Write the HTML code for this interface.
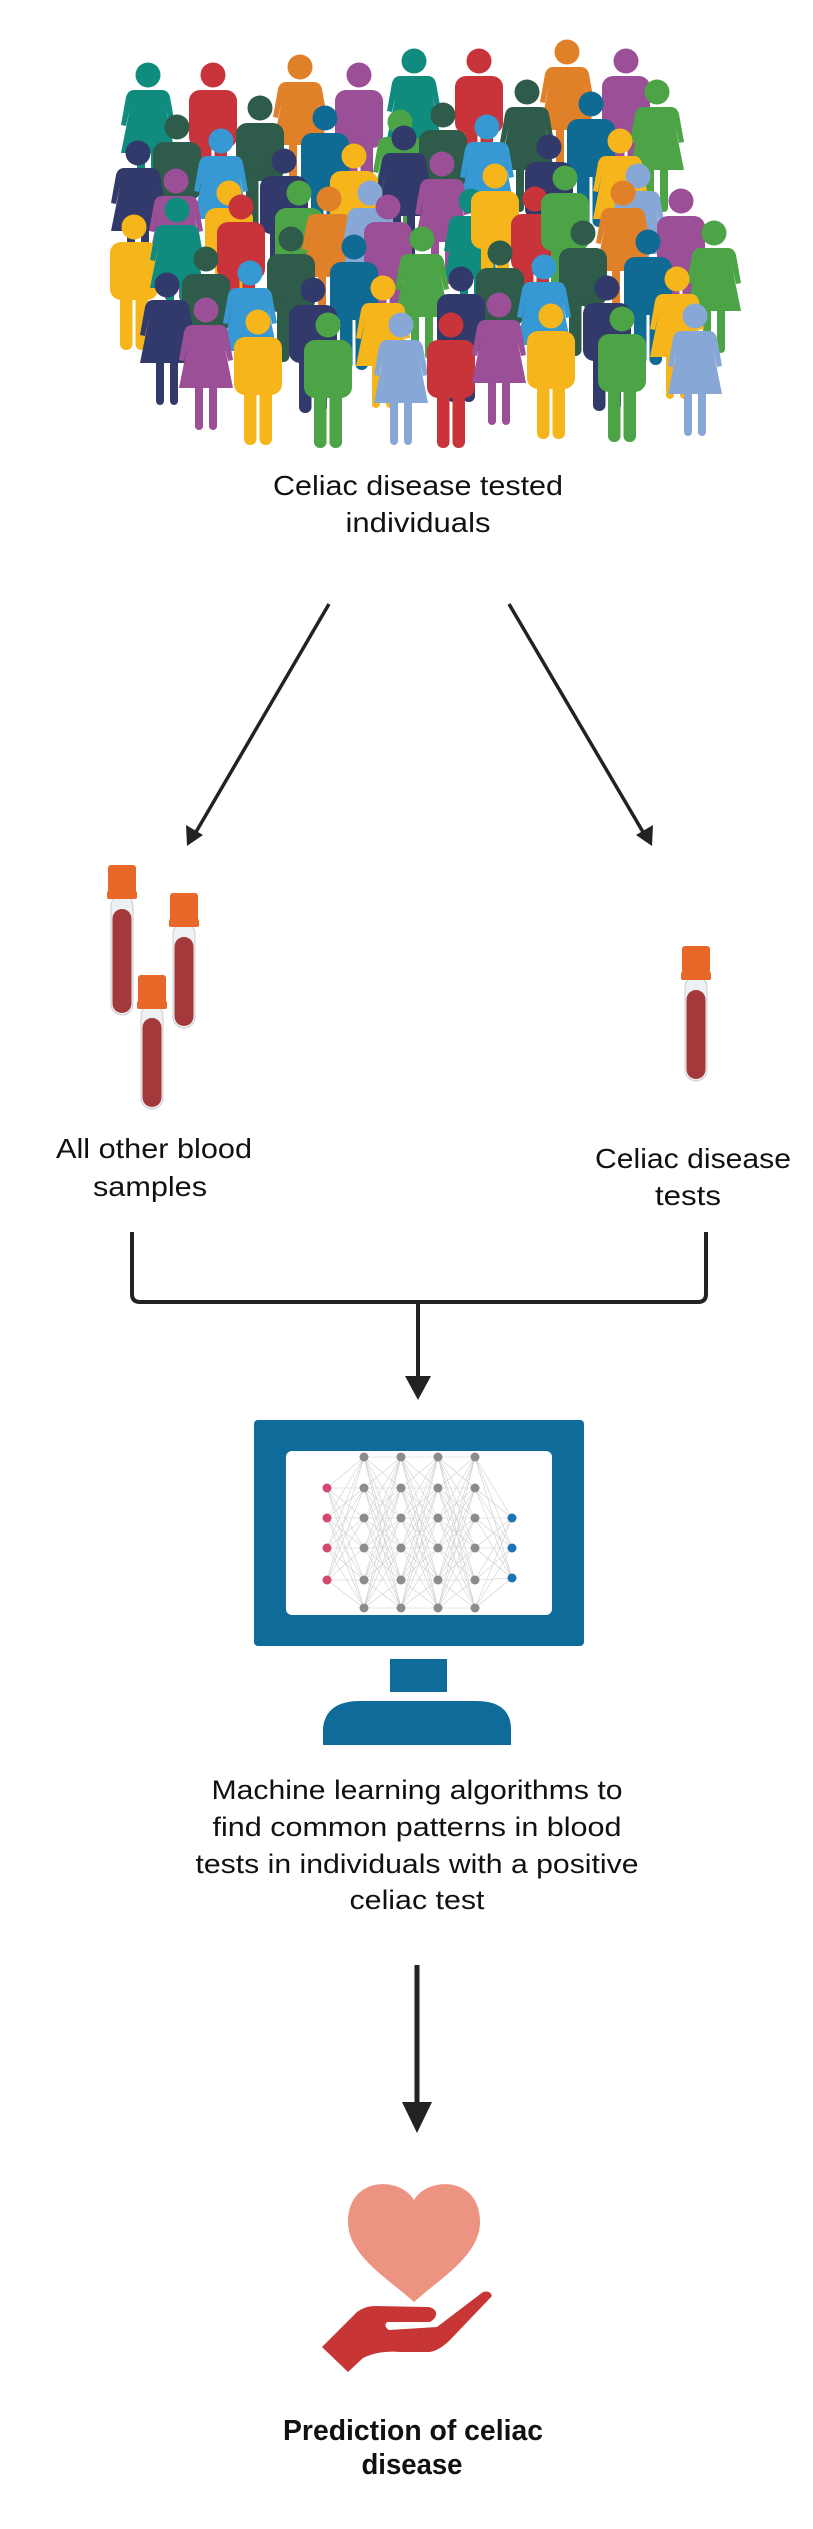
<!DOCTYPE html>
<html><head><meta charset="utf-8"><style>html,body{margin:0;padding:0;background:#fff}svg{display:block}</style></head>
<body>
<svg width="813" height="2529" viewBox="0 0 813 2529" xmlns="http://www.w3.org/2000/svg" font-family="Liberation Sans, sans-serif">
<defs>
<g id="m">
<circle cx="0" cy="12" r="12.5"/>
<rect x="-24" y="27" width="48" height="58" rx="11"/>
<rect x="-14" y="76" width="12.5" height="59" rx="6"/>
<rect x="1.5" y="76" width="12.5" height="59" rx="6"/>
</g>
<g id="w">
<circle cx="0" cy="12" r="12.5"/>
<path d="M-14 27 L14 27 Q20 27 22 34 L27 62 L22 63 L18 45 L27 90 L-27 90 L-18 45 L-22 63 L-27 62 L-22 34 Q-20 27 -14 27 Z"/>
<rect x="-11" y="86" width="8" height="46" rx="4"/>
<rect x="3" y="86" width="8" height="46" rx="4"/>
</g>
</defs>

<g>
<use href="#w" x="148" y="63" fill="#108c7f"/>
<use href="#m" x="213" y="63" fill="#c8343a"/>
<use href="#w" x="300" y="55" fill="#e0812a"/>
<use href="#m" x="359" y="63" fill="#9a4f96"/>
<use href="#w" x="414" y="49" fill="#108c7f"/>
<use href="#m" x="479" y="49" fill="#c8343a"/>
<use href="#w" x="567" y="40" fill="#e0812a"/>
<use href="#m" x="626" y="49" fill="#9a4f96"/>
<use href="#w" x="657" y="80" fill="#4ca446"/>
<use href="#w" x="527" y="80" fill="#2e5b4a"/>
<use href="#m" x="177" y="115" fill="#2e5b4a"/>
<use href="#m" x="260" y="96" fill="#2e5b4a"/>
<use href="#m" x="325" y="106" fill="#0f6b94"/>
<use href="#w" x="400" y="110" fill="#4ca446"/>
<use href="#m" x="443" y="103" fill="#2e5b4a"/>
<use href="#w" x="487" y="115" fill="#3799d3"/>
<use href="#m" x="591" y="92" fill="#0f6b94"/>
<use href="#w" x="138" y="141" fill="#323a6c"/>
<use href="#w" x="221" y="129" fill="#3799d3"/>
<use href="#m" x="284" y="149" fill="#323a6c"/>
<use href="#m" x="354" y="144" fill="#f5b51b"/>
<use href="#w" x="404" y="126" fill="#323a6c"/>
<use href="#w" x="442" y="152" fill="#9a4f96"/>
<use href="#m" x="549" y="135" fill="#323a6c"/>
<use href="#w" x="620" y="129" fill="#f5b51b"/>
<use href="#w" x="638" y="164" fill="#87a7d7"/>
<use href="#w" x="176" y="169" fill="#9a4f96"/>
<use href="#m" x="229" y="181" fill="#f5b51b"/>
<use href="#m" x="241" y="195" fill="#c8343a"/>
<use href="#m" x="299" y="181" fill="#4ca446"/>
<use href="#w" x="329" y="187" fill="#e0812a"/>
<use href="#w" x="370" y="181" fill="#87a7d7"/>
<use href="#m" x="388" y="195" fill="#9a4f96"/>
<use href="#w" x="471" y="189" fill="#108c7f"/>
<use href="#m" x="495" y="164" fill="#f5b51b"/>
<use href="#m" x="535" y="187" fill="#c8343a"/>
<use href="#m" x="565" y="166" fill="#4ca446"/>
<use href="#w" x="623" y="181" fill="#e0812a"/>
<use href="#m" x="681" y="189" fill="#9a4f96"/>
<use href="#m" x="134" y="215" fill="#f5b51b"/>
<use href="#w" x="177" y="198" fill="#108c7f"/>
<use href="#m" x="206" y="247" fill="#2e5b4a"/>
<use href="#m" x="291" y="227" fill="#2e5b4a"/>
<use href="#m" x="354" y="235" fill="#0f6b94"/>
<use href="#w" x="422" y="227" fill="#4ca446"/>
<use href="#m" x="500" y="241" fill="#2e5b4a"/>
<use href="#m" x="583" y="221" fill="#2e5b4a"/>
<use href="#m" x="648" y="230" fill="#0f6b94"/>
<use href="#w" x="714" y="221" fill="#4ca446"/>
<use href="#w" x="167" y="273" fill="#323a6c"/>
<use href="#w" x="250" y="261" fill="#3799d3"/>
<use href="#m" x="313" y="278" fill="#323a6c"/>
<use href="#w" x="383" y="276" fill="#f5b51b"/>
<use href="#m" x="461" y="267" fill="#323a6c"/>
<use href="#w" x="544" y="255" fill="#3799d3"/>
<use href="#m" x="607" y="276" fill="#323a6c"/>
<use href="#w" x="677" y="267" fill="#f5b51b"/>
<use href="#w" x="206" y="298" fill="#9a4f96"/>
<use href="#m" x="258" y="310" fill="#f5b51b"/>
<use href="#m" x="328" y="313" fill="#4ca446"/>
<use href="#w" x="401" y="313" fill="#87a7d7"/>
<use href="#m" x="451" y="313" fill="#c8343a"/>
<use href="#w" x="499" y="293" fill="#9a4f96"/>
<use href="#m" x="551" y="304" fill="#f5b51b"/>
<use href="#m" x="622" y="307" fill="#4ca446"/>
<use href="#w" x="695" y="304" fill="#87a7d7"/>
</g>

<text x="418" y="495" font-size="28" fill="#111" text-anchor="middle" textLength="290" lengthAdjust="spacingAndGlyphs">Celiac disease tested</text>
<text x="418" y="532" font-size="28" fill="#111" text-anchor="middle" textLength="145" lengthAdjust="spacingAndGlyphs">individuals</text>

<g stroke="#222" stroke-width="3.5" fill="none">
<line x1="329" y1="604" x2="196" y2="832"/>
<line x1="509" y1="604" x2="643" y2="832"/>
</g>
<polygon points="187,846 186,825 203,835" fill="#222"/>
<polygon points="652,846 636,835 653,825" fill="#222"/>

<!-- tubes -->
<g>
<rect x="111" y="895" width="22" height="120" rx="11" fill="#eef1f3" stroke="#c9cdd1"/>
<rect x="112.5" y="909" width="19" height="104" rx="9.5" fill="#a3393b"/>
<rect x="108" y="865" width="28" height="30" rx="3" fill="#e8682a"/>
<rect x="107" y="891" width="30" height="8" rx="2" fill="#e8682a"/>
</g>
<g>
<rect x="173" y="923" width="22" height="105" rx="11" fill="#eef1f3" stroke="#c9cdd1"/>
<rect x="174.5" y="937" width="19" height="89" rx="9.5" fill="#a3393b"/>
<rect x="170" y="893" width="28" height="30" rx="3" fill="#e8682a"/>
<rect x="169" y="919" width="30" height="8" rx="2" fill="#e8682a"/>
</g>
<g>
<rect x="141" y="1005" width="22" height="104" rx="11" fill="#eef1f3" stroke="#c9cdd1"/>
<rect x="142.5" y="1018" width="19" height="89" rx="9.5" fill="#a3393b"/>
<rect x="138" y="975" width="28" height="30" rx="3" fill="#e8682a"/>
<rect x="137" y="1001" width="30" height="8" rx="2" fill="#e8682a"/>
</g>
<g>
<rect x="685" y="976" width="22" height="105" rx="11" fill="#eef1f3" stroke="#c9cdd1"/>
<rect x="686.5" y="990" width="19" height="89" rx="9.5" fill="#a3393b"/>
<rect x="682" y="946" width="28" height="30" rx="3" fill="#e8682a"/>
<rect x="681" y="972" width="30" height="8" rx="2" fill="#e8682a"/>
</g>

<text x="154" y="1158" font-size="28" fill="#111" text-anchor="middle" textLength="196" lengthAdjust="spacingAndGlyphs">All other blood</text>
<text x="150" y="1196" font-size="28" fill="#111" text-anchor="middle" textLength="114" lengthAdjust="spacingAndGlyphs">samples</text>
<text x="693" y="1168" font-size="28" fill="#111" text-anchor="middle" textLength="196" lengthAdjust="spacingAndGlyphs">Celiac disease</text>
<text x="688" y="1205" font-size="28" fill="#111" text-anchor="middle" textLength="66" lengthAdjust="spacingAndGlyphs">tests</text>

<path d="M132 1232 V1294 Q132 1302 140 1302 H698 Q706 1302 706 1294 V1232" stroke="#222" stroke-width="4" fill="none"/>
<line x1="418" y1="1302" x2="418" y2="1378" stroke="#222" stroke-width="4"/>
<polygon points="405,1376 431,1376 418,1400" fill="#222"/>

<rect x="254" y="1420" width="330" height="226" rx="4" fill="#0e6b9a"/>
<rect x="286" y="1451" width="266" height="164" rx="6" fill="#fff"/>
<rect x="390" y="1659" width="57" height="33" fill="#0e6b9a"/>
<path d="M323 1745 V1728 Q326 1701 360 1701 H476 Q510 1701 511 1728 V1745 Z" fill="#0e6b9a"/>
<g stroke="#cfcfcf" stroke-width="0.6">
<path d="M327 1488 L364 1457 M327 1488 L364 1488 M327 1488 L364 1518 M327 1488 L364 1548 M327 1488 L364 1580 M327 1488 L364 1608
M327 1518 L364 1457 M327 1518 L364 1488 M327 1518 L364 1518 M327 1518 L364 1548 M327 1518 L364 1580 M327 1518 L364 1608
M327 1548 L364 1457 M327 1548 L364 1488 M327 1548 L364 1518 M327 1548 L364 1548 M327 1548 L364 1580 M327 1548 L364 1608
M327 1580 L364 1457 M327 1580 L364 1488 M327 1580 L364 1518 M327 1580 L364 1548 M327 1580 L364 1580 M327 1580 L364 1608"/>
<g id="hh">
<path d="M364 1457 L401 1457 M364 1457 L401 1488 M364 1457 L401 1518 M364 1457 L401 1548 M364 1457 L401 1580 M364 1457 L401 1608
M364 1488 L401 1457 M364 1488 L401 1488 M364 1488 L401 1518 M364 1488 L401 1548 M364 1488 L401 1580 M364 1488 L401 1608
M364 1518 L401 1457 M364 1518 L401 1488 M364 1518 L401 1518 M364 1518 L401 1548 M364 1518 L401 1580 M364 1518 L401 1608
M364 1548 L401 1457 M364 1548 L401 1488 M364 1548 L401 1518 M364 1548 L401 1548 M364 1548 L401 1580 M364 1548 L401 1608
M364 1580 L401 1457 M364 1580 L401 1488 M364 1580 L401 1518 M364 1580 L401 1548 M364 1580 L401 1580 M364 1580 L401 1608
M364 1608 L401 1457 M364 1608 L401 1488 M364 1608 L401 1518 M364 1608 L401 1548 M364 1608 L401 1580 M364 1608 L401 1608"/>
</g>
<use href="#hh" x="37"/>
<use href="#hh" x="74"/>
<path d="M475 1457 L512 1518 M475 1457 L512 1548 M475 1457 L512 1578
M475 1488 L512 1518 M475 1488 L512 1548 M475 1488 L512 1578
M475 1518 L512 1518 M475 1518 L512 1548 M475 1518 L512 1578
M475 1548 L512 1518 M475 1548 L512 1548 M475 1548 L512 1578
M475 1580 L512 1518 M475 1580 L512 1548 M475 1580 L512 1578
M475 1608 L512 1518 M475 1608 L512 1548 M475 1608 L512 1578"/>
</g>
<g fill="#d6486f">
<circle cx="327" cy="1488" r="4.5"/><circle cx="327" cy="1518" r="4.5"/><circle cx="327" cy="1548" r="4.5"/><circle cx="327" cy="1580" r="4.5"/>
</g>
<g fill="#8c8c8c" id="col">
<circle cx="364" cy="1457" r="4.5"/><circle cx="364" cy="1488" r="4.5"/><circle cx="364" cy="1518" r="4.5"/><circle cx="364" cy="1548" r="4.5"/><circle cx="364" cy="1580" r="4.5"/><circle cx="364" cy="1608" r="4.5"/>
</g>
<use href="#col" x="37"/><use href="#col" x="74"/><use href="#col" x="111"/>
<g fill="#1a75b0">
<circle cx="512" cy="1518" r="4.5"/><circle cx="512" cy="1548" r="4.5"/><circle cx="512" cy="1578" r="4.5"/>
</g>

<text x="417" y="1799" font-size="27" fill="#111" text-anchor="middle" textLength="411" lengthAdjust="spacingAndGlyphs">Machine learning algorithms to</text>
<text x="417" y="1836" font-size="27" fill="#111" text-anchor="middle" textLength="409" lengthAdjust="spacingAndGlyphs">find common patterns in blood</text>
<text x="417" y="1873" font-size="27" fill="#111" text-anchor="middle" textLength="443" lengthAdjust="spacingAndGlyphs">tests in individuals with a positive</text>
<text x="417" y="1909" font-size="27" fill="#111" text-anchor="middle" textLength="135" lengthAdjust="spacingAndGlyphs">celiac test</text>

<line x1="417" y1="1965" x2="417" y2="2104" stroke="#222" stroke-width="5"/>
<polygon points="402,2102 432,2102 417,2133" fill="#222"/>

<path d="M414 2200 C400 2176 348 2176 348 2222 C348 2256 390 2280 414 2302 C438 2280 480 2256 480 2222 C480 2176 428 2176 414 2200 Z" fill="#ec9382"/>
<path d="M322 2347 L348 2372 L363 2358 Q380 2350 400 2352 L430 2352 Q440 2350 450 2340 L492 2296 Q490 2290 483 2292 L437 2327 L389 2330 Q383 2326 387 2322 L430 2322 Q437 2318 436 2312 Q433 2307 428 2307 L375 2306 Q365 2306 357 2312 Z" fill="#c73535"/>

<text x="413" y="2440" font-size="29" font-weight="bold" fill="#111" text-anchor="middle" textLength="260" lengthAdjust="spacingAndGlyphs">Prediction of celiac</text>
<text x="412" y="2474" font-size="29" font-weight="bold" fill="#111" text-anchor="middle" textLength="101" lengthAdjust="spacingAndGlyphs">disease</text>
</svg>
</body></html>
